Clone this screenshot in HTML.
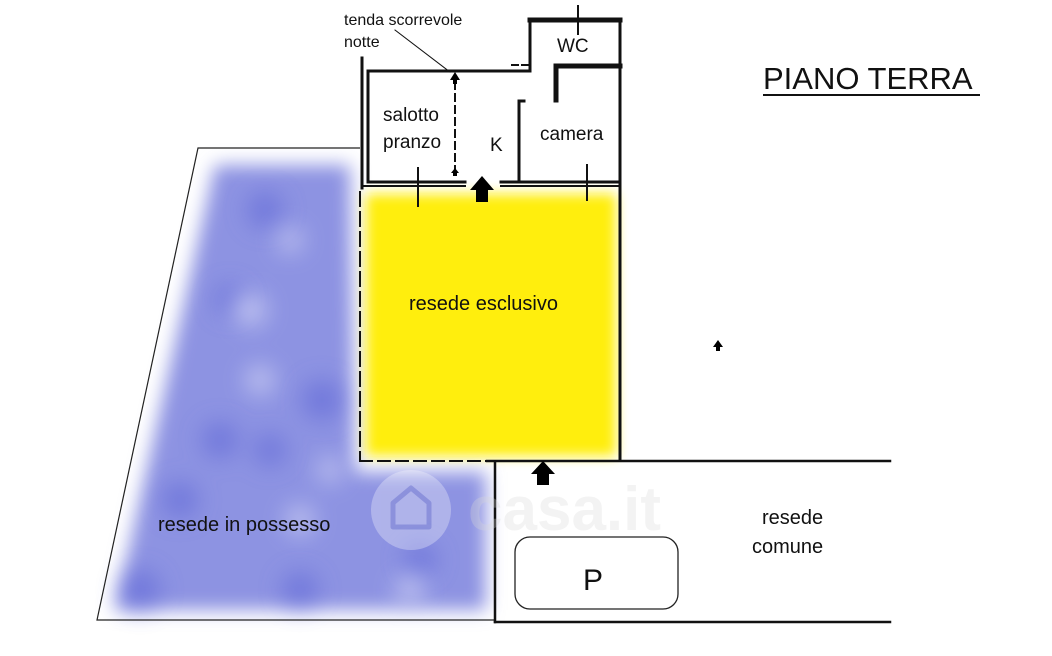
<!DOCTYPE html>
<html><head><meta charset="utf-8"><style>
html,body{margin:0;padding:0;background:#fff;}
svg{display:block;}
text{font-family:"Liberation Sans","DejaVu Sans",sans-serif;fill:#111;}
</style></head><body>
<svg width="1052" height="656" viewBox="0 0 1052 656" xmlns="http://www.w3.org/2000/svg">
<defs>
<filter id="b" x="-20%" y="-20%" width="140%" height="140%"><feGaussianBlur stdDeviation="9"/></filter>
<filter id="y" x="-20%" y="-20%" width="140%" height="140%"><feGaussianBlur stdDeviation="6"/></filter>
<filter id="b2" x="-50%" y="-50%" width="200%" height="200%"><feGaussianBlur stdDeviation="12"/></filter>
</defs>
<!-- blue region -->
<g filter="url(#b)">
<polygon points="215,165 350,165 355,472 486,472 486,610 115,610" fill="#8d93e2"/>
</g>
<g filter="url(#b2)" fill="#5a62d6" opacity="0.55">
<circle cx="265" cy="210" r="18"/><circle cx="322" cy="400" r="20"/><circle cx="220" cy="440" r="18"/>
<circle cx="270" cy="450" r="16"/><circle cx="140" cy="590" r="20"/><circle cx="300" cy="590" r="18"/>
<circle cx="420" cy="560" r="16"/><circle cx="230" cy="300" r="15"/><circle cx="180" cy="500" r="18"/>
</g>
<g filter="url(#b2)" fill="#d0d3f5" opacity="0.8">
<circle cx="250" cy="310" r="16"/><circle cx="300" cy="520" r="14"/><circle cx="410" cy="590" r="14"/>
<circle cx="290" cy="240" r="12"/><circle cx="260" cy="380" r="14"/><circle cx="330" cy="470" r="12"/>
</g>
<!-- yellow -->
<g filter="url(#y)"><rect x="366" y="194" width="250" height="262" fill="#ffee10"/></g>
<!-- outline lines thin -->
<g stroke="#222" stroke-width="1.2" fill="none">
<polyline points="360,148 198,148 97,620 495,620"/>
</g>
<!-- building walls -->
<g stroke="#111" fill="none" stroke-linecap="square">
<line x1="362" y1="58" x2="362" y2="188" stroke-width="3"/>
<line x1="368" y1="71" x2="530" y2="71" stroke-width="3"/>
<line x1="368" y1="71" x2="368" y2="182" stroke-width="3"/>
<line x1="530" y1="71" x2="530" y2="20" stroke-width="3"/>
<line x1="530" y1="20" x2="620" y2="20" stroke-width="5"/>
<line x1="620" y1="20" x2="620" y2="460" stroke-width="3"/>
<line x1="557" y1="66" x2="620" y2="66" stroke-width="5"/>
<line x1="556" y1="66" x2="556" y2="100" stroke-width="5"/>
<line x1="519" y1="101" x2="519" y2="182" stroke-width="3"/>
<line x1="519" y1="101" x2="524" y2="101" stroke-width="3"/>
<line x1="368" y1="182" x2="465" y2="182" stroke-width="3"/>
<line x1="362" y1="186" x2="465" y2="186" stroke-width="2"/>
<line x1="501" y1="182" x2="620" y2="182" stroke-width="3"/>
<line x1="501" y1="186" x2="620" y2="186" stroke-width="2"/>
<line x1="512" y1="65" x2="518" y2="65" stroke-width="2"/>
<line x1="522" y1="65" x2="528" y2="65" stroke-width="2"/>
<line x1="418" y1="168" x2="418" y2="206" stroke-width="2"/>
<line x1="587" y1="165" x2="587" y2="200" stroke-width="2"/>
<line x1="578" y1="6" x2="578" y2="34" stroke-width="2"/>
<line x1="455" y1="82" x2="455" y2="170" stroke-width="2" stroke-dasharray="7,5"/>
<line x1="360" y1="192" x2="360" y2="460" stroke-width="2" stroke-dasharray="14,6"/>
<line x1="360" y1="461" x2="495" y2="461" stroke-width="2" stroke-dasharray="12,6"/>
<line x1="487" y1="461" x2="890" y2="461" stroke-width="2.5"/>
<line x1="495" y1="462" x2="495" y2="622" stroke-width="2.5"/>
<line x1="495" y1="622" x2="890" y2="622" stroke-width="2.5"/>
<line x1="395" y1="30" x2="450" y2="72" stroke-width="1"/>
</g>
<g fill="#000">
<polygon points="455,72 450,80 453,80 453,84 457,84 457,80 460,80"/>
<polygon points="455,168 451,173 453,173 453,176 457,176 457,173 459,173"/>
<polygon points="482,176 470,190 476,190 476,202 488,202 488,190 494,190"/>
<polygon points="543,461 531,474 537,474 537,485 549,485 549,474 555,474"/>
<polygon points="718,340 713,347 716,347 716,351 720,351 720,347 723,347"/>
</g>
<!-- watermark -->
<g opacity="0.3">
<circle cx="411" cy="510" r="40" fill="#fff"/>
<path d="M393 527 V503 L411 488 L429 503 V527 Z" fill="none" stroke="#8a8fd0" stroke-width="5" stroke-linejoin="round"/>
<text x="468" y="530" font-size="62" font-weight="bold" style="fill:#d8d8d8">casa.it</text>
</g>
<rect x="515" y="537" width="163" height="72" rx="15" fill="#fff" stroke="#222" stroke-width="1.3"/>
<text x="583" y="590" font-size="30">P</text>
<text x="344" y="25" font-size="16">tenda scorrevole</text>
<text x="344" y="47" font-size="16">notte</text>
<text x="557" y="52" font-size="19">WC</text>
<text x="383" y="121" font-size="19">salotto</text>
<text x="383" y="148" font-size="19">pranzo</text>
<text x="490" y="151" font-size="19">K</text>
<text x="540" y="140" font-size="19">camera</text>
<text x="409" y="310" font-size="20">resede esclusivo</text>
<text x="158" y="531" font-size="20">resede in possesso</text>
<text x="762" y="524" font-size="20">resede</text>
<text x="752" y="553" font-size="20">comune</text>
<text x="763" y="89" font-size="31">PIANO TERRA</text>
<line x1="763" y1="95" x2="980" y2="95" stroke="#111" stroke-width="2"/>
</svg>
</body></html>
